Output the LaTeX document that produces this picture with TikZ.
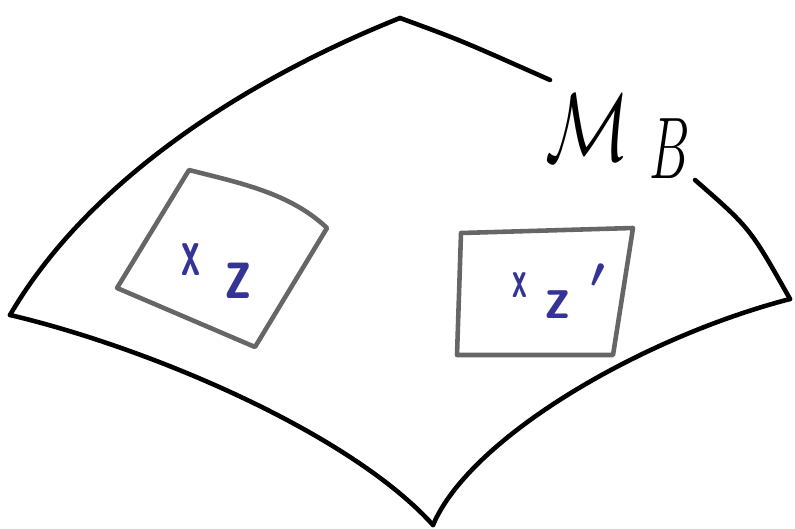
\documentclass[tikz,border=0pt]{standalone}
\usepackage{amssymb,amsmath}
\usepackage{graphicx}
\usepackage{tikz}
\usetikzlibrary{calc,positioning}
\definecolor{zblue}{RGB}{52,52,150}
\definecolor{patchgray}{RGB}{102,102,102}

\begin{document}
\begin{tikzpicture}[
    rim/.style={line width=1.3pt,black,line cap=round,line join=round},
    patch/.style={line width=1.3pt,patchgray,line cap=round,line join=round},
    pt/.style={text=zblue,font=\sffamily\bfseries,inner sep=0pt,anchor=base}]
   \useasboundingbox (0,0) rectangle (7.95,5.28);
   \path
    (4.00,5.10) coordinate (t)
    (0.10,2.13) coordinate (l)
    (4.33,0.03) coordinate (b)
    (7.90,2.29) coordinate (r)
    (5.50,4.48) coordinate (g1)
    (6.95,3.48) coordinate (g2);

    % 外边界
    \draw[rim] (t) .. controls (2.5,4.5) and (0.9,3.5) .. (l);
    \draw[rim] (l) .. controls (1.5,1.8) and (3.5,0.95) .. (b);
    \draw[rim] (b) .. controls (4.7,0.9) and (6.4,1.9) .. (r);
    \draw[rim] (t) .. controls (4.6,4.88) .. (g1);
    \draw[rim] (g2) .. controls (7.5,3.0) .. (r);

    % 标注 M_B
    \node[inner sep=0pt,anchor=base west] (mb) at (5.45,3.68)
      {{\fontsize{24.88}{25}\selectfont\scalebox{0.8}[1.1]{$\mathcal{M}$}}\hspace{0.2cm}%
       {\fontsize{20.74}{21}\selectfont\raisebox{-0.18cm}{\scalebox{0.7}[1.2]{$B$}}}};

    % 两个灰色小块
    \path
    (1.89,3.58) coordinate (a1)
    (3.27,3.00) coordinate (a2)
    (2.55,1.81) coordinate (a3)
    (1.17,2.40) coordinate (a4)
    (4.61,2.95) coordinate (c1)
    (6.33,3.00) coordinate (c2)
    (6.13,1.73) coordinate (c3)
    (4.57,1.73) coordinate (c4);
    \draw[patch] (a1) .. controls (2.4,3.45) and (2.9,3.35) .. (a2)
      -- (a3) -- (a4) -- cycle;
    \draw[patch] (c1) -- (c2) -- (c3) -- (c4) -- cycle;

    % 点 z 与 z'
    \node[pt] (x1) at (1.905,2.53) {\fontsize{18}{18}\selectfont\scalebox{0.6}[1.1]{x}};
    \node[pt] (z1) at (2.38,2.30) {\fontsize{22}{22}\selectfont\scalebox{0.7}[1]{z}};
    \node[pt] (x2) at (5.195,2.31) {\fontsize{14}{14}\selectfont\scalebox{0.6}[1.1]{x}};
    \node[pt,anchor=base west] (z2) at (5.45,2.10)
      {\fontsize{17.28}{18}\selectfont\scalebox{0.85}[1]{z}\hspace{0.2cm}\raisebox{0.08cm}{$\boldsymbol{'}$}};

\end{tikzpicture}
\end{document}
